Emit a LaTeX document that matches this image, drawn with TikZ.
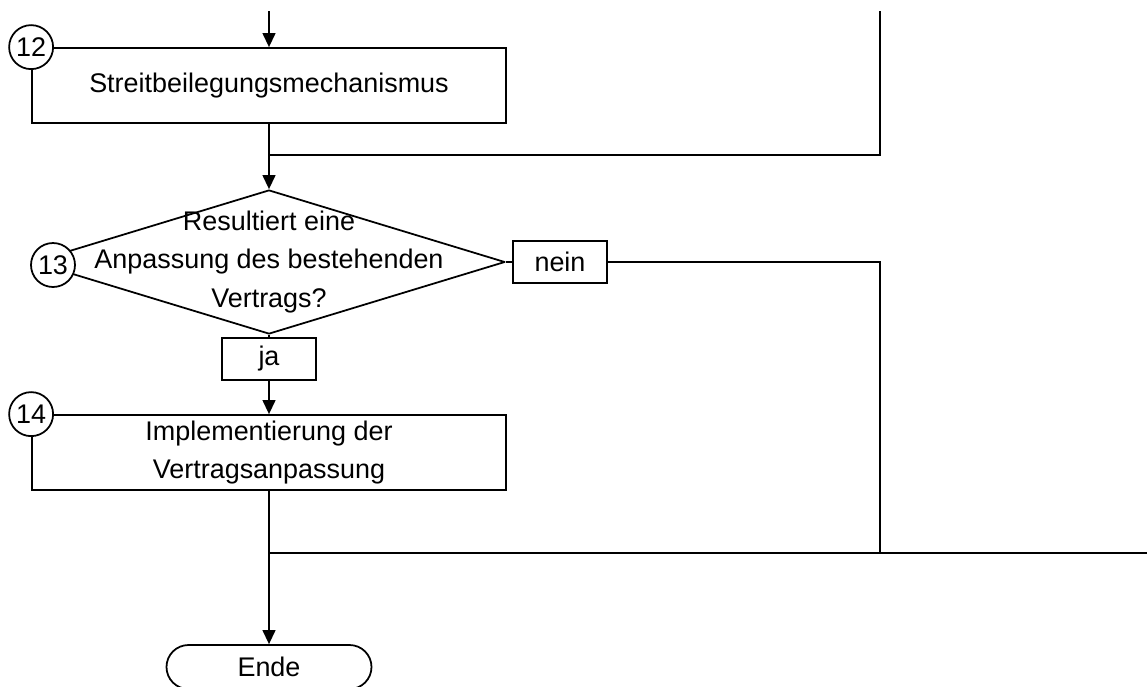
\documentclass[tikz,border=0pt]{standalone}
\usepackage{fontspec}
\setmainfont{Liberation Sans}
\usetikzlibrary{shapes.geometric,shapes.misc,arrows.meta,positioning,calc}

\newcommand{\px}{0.03cm}

\tikzset{
  flowbox/.style={draw, rectangle, minimum width={474*\px}, minimum height={75*\px}, inner sep=0pt, align=center},
  decision/.style={draw, diamond, line join=round, minimum width={472*\px}, minimum height={144*\px}, inner sep=0pt},
  answer/.style={draw, rectangle, minimum width={94*\px}, minimum height={42*\px}, inner sep=0pt},
  stepnum/.style={draw, circle, fill=white, minimum size={44*\px}, inner sep=0pt},
  terminal/.style={draw, rounded rectangle, minimum width={205*\px}, minimum height={44*\px}, inner sep=0pt},
  flow/.style={-{Triangle[length=12pt,width=11pt]}},
}

\begin{document}
\begin{tikzpicture}[x=\px, y=-\px, line width=1.5pt, font=\fontsize{23}{32.5}\selectfont]
    \useasboundingbox (0,0) rectangle (1147,686);
    \clip (0,0) rectangle (1147,686);

    % Step 12
    \coordinate (in) at (269,11);
    \node[flowbox] (n12) at (269,85.5) {Streitbeilegungsmechanismus};
    \node[stepnum] (c12) at (n12.north west) {12};

    % Step 13: decision
    \node[decision] (q13) at (269,262) {};
    \node[align=center] (q13text) at (q13) {Resultiert eine\\Anpassung des bestehenden\\Vertrags?};
    \node[stepnum] (c13) at (53,265) {13};
    \node[answer] (nein) at (560,262) {nein};
    \node[answer] (ja) at (269,359) {ja};

    % Step 14
    \node[flowbox] (n14) at (269,452.5) {Implementierung der\\Vertragsanpassung};
    \node[stepnum] (c14) at (n14.north west) {14};

    % End
    \node[terminal] (ende) at (269,667) {Ende};

    % Joins
    \coordinate (back) at (880,11);
    \coordinate (j1) at (269,155);
    \coordinate (j2) at (269,553);
    \coordinate (j3) at (880,553);
    \coordinate (out) at (1147,553);

    % Connectors
    \draw[flow] (in) -- (n12.north);
    \draw[flow] (n12.south) -- (q13.north);
    \draw (back) |- (j1);
    \draw (q13.east) -- (nein.west);
    \draw (nein.east) -| (j3);
    \draw (q13.south) -- (ja.north);
    \draw[flow] (ja.south) -- (n14.north);
    \draw[flow] (n14.south) -- (ende.north);
    \draw (out) -- (j2);
\end{tikzpicture}
\end{document}
